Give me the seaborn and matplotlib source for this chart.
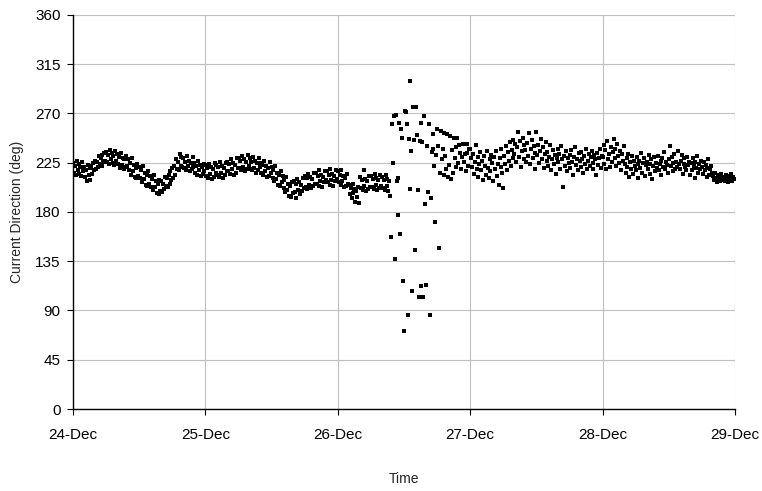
import pandas as pd
import numpy as np
import matplotlib
matplotlib.use("Agg")
import matplotlib.pyplot as plt
import matplotlib.dates as mdates
import seaborn as sns

# === Current direction readings, 10-minute samples, one list per day ===
dir_24dec = [
    225, 216, 222, 214, 227, 218, 224, 215, 221, 213, 226, 217,
    221, 212, 218, 208, 223, 214, 220, 209, 222, 215, 225, 218,
    227, 219, 226, 221, 231, 224, 229, 222, 232, 226, 234, 227,
    235, 226, 232, 224, 237, 228, 234, 225, 231, 223, 236, 227,
    233, 224, 230, 220, 234, 223, 229, 219, 228, 221, 231, 222,
    228, 218, 225, 214, 229, 217, 223, 212, 220, 211, 224, 213,
    221, 211, 218, 207, 222, 210, 216, 205, 214, 204, 217, 206,
    213, 203, 210, 200, 214, 203, 208, 197, 206, 196, 209, 199,
    208, 198, 206, 201, 212, 204, 211, 203, 214, 206, 217, 209,
    220, 211, 222, 214, 228, 219, 226, 218, 233, 222, 230, 221,
    229, 220, 226, 218, 231, 222, 227, 217, 225, 219, 230, 221,
    225, 216, 222, 214, 227, 218, 223, 213, 221, 215, 224, 217,
]
dir_25dec = [
    223, 213, 220, 211, 224, 215, 221, 210, 219, 212, 225, 216,
    223, 214, 221, 212, 226, 216, 222, 211, 220, 214, 225, 217,
    226, 217, 224, 215, 228, 219, 225, 214, 223, 216, 229, 220,
    229, 220, 227, 218, 231, 221, 228, 217, 226, 219, 232, 222,
    229, 219, 226, 218, 230, 220, 227, 216, 225, 218, 229, 221,
    225, 216, 223, 214, 227, 217, 222, 212, 220, 213, 226, 216,
    221, 211, 218, 208, 222, 210, 216, 205, 214, 204, 217, 207,
    213, 202, 209, 198, 212, 200, 206, 195, 204, 194, 207, 197,
    208, 198, 206, 193, 210, 200, 207, 196, 205, 199, 211, 202,
    213, 203, 211, 201, 215, 205, 212, 202, 210, 204, 216, 206,
    216, 206, 213, 204, 218, 208, 214, 203, 212, 207, 217, 209,
    217, 207, 214, 205, 219, 209, 215, 204, 213, 208, 218, 210,
]
dir_26dec = [
    217, 207, 214, 205, 218, 208, 213, 203, 211, 204, 215, 206,
    205, 196, 202, 193, 206, 197, 201, 189, 199, 194, 203, 188,
    212, 202, 209, 200, 218, 204, 210, 199, 208, 201, 213, 203,
    213, 203, 210, 201, 215, 205, 211, 200, 209, 202, 214, 204,
    212, 202, 209, 200, 214, 204, 210, 199, 208, 195, 157, 260,
    225, 268, 137, 269, 208, 211, 177, 261, 160, 256, 248, 117,
    71, 272, 271, 260, 86, 247, 201, 300, 236, 108, 276, 246,
    145, 276, 250, 200, 102, 245, 261, 112, 244, 102, 268, 187,
    113, 240, 198, 260, 86, 193, 235, 238, 251, 222, 171, 232,
    256, 240, 147, 216, 254, 228, 238, 252, 214, 231, 219, 251,
    212, 223, 249, 210, 237, 216, 248, 229, 221, 239, 248, 225,
    241, 234, 219, 230, 242, 226, 233, 217, 242, 234, 222, 238,
]
dir_27dec = [
    238, 229, 221, 233, 215, 226, 241, 219, 230, 212, 224, 235,
    218, 227, 209, 231, 222, 214, 236, 220, 211, 228, 217, 232,
    225, 208, 230, 219, 236, 213, 224, 205, 229, 221, 238, 216,
    202, 231, 224, 240, 218, 235, 227, 244, 222, 237, 229, 246,
    233, 242, 226, 239, 253, 230, 245, 221, 236, 248, 228, 241,
    237, 226, 243, 231, 252, 224, 238, 246, 229, 240, 219, 234,
    253, 232, 241, 225, 236, 247, 228, 239, 220, 233, 244, 227,
    235, 222, 230, 241, 218, 228, 237, 224, 232, 215, 229, 238,
    226, 233, 219, 240, 228, 203, 231, 222, 236, 217, 229, 225,
    232, 220, 237, 226, 214, 230, 239, 223, 228, 218, 234, 227,
    221, 235, 228, 216, 231, 224, 238, 219, 227, 233, 222, 230,
    236, 225, 219, 232, 228, 214, 234, 223, 229, 238, 220, 231,
]
dir_28dec = [
    230, 241, 224, 237, 219, 245, 228, 233, 221, 239, 226, 235,
    247, 229, 238, 222, 242, 231, 225, 236, 218, 233, 227, 240,
    224, 216, 229, 221, 233, 212, 226, 219, 231, 215, 227, 222,
    218, 230, 224, 211, 227, 220, 234, 216, 225, 229, 213, 223,
    226, 219, 232, 215, 224, 228, 210, 222, 230, 217, 225, 220,
    231, 218, 224, 227, 214, 229, 221, 235, 219, 226, 223, 216,
    228, 240, 222, 230, 217, 225, 233, 219, 226, 221, 236, 224,
    219, 227, 232, 215, 224, 229, 221, 218, 230, 223, 226, 214,
    225, 218, 229, 222, 211, 226, 220, 231, 216, 224, 219, 227,
    221, 215, 226, 218, 223, 212, 220, 228, 214, 219, 222, 216,
    213, 209, 216, 211, 207, 214, 210, 212, 208, 215, 211, 209,
    212, 208, 214, 210, 207, 213, 209, 211, 215, 208, 212, 210,
]

y_ticks = [0, 45, 90, 135, 180, 225, 270, 315, 360]
start_day = "2004-12-24"
end_day = "2004-12-29"

direction = dir_24dec + dir_25dec + dir_26dec + dir_27dec + dir_28dec
times = pd.date_range(start_day, periods=len(direction), freq="10min")
df = pd.DataFrame({"time": times, "direction": direction})

# === Plot ===
sns.set_style("white")
plt.rcParams["font.family"] = ["Liberation Sans", "DejaVu Sans"]

fig = plt.figure(figsize=(7.62, 4.91), dpi=100)
ax = fig.add_axes([0.0958, 0.167, 0.8688, 0.8025])

sns.scatterplot(data=df, x="time", y="direction", marker="s", s=10,
                color="black", linewidth=0, ax=ax, zorder=3)

ax.set_xlim(pd.Timestamp(start_day), pd.Timestamp(end_day))
ax.set_ylim(0, 360)
ax.set_yticks(y_ticks)
ax.xaxis.set_major_locator(mdates.DayLocator())
ax.xaxis.set_major_formatter(mdates.DateFormatter("%d-%b"))

ax.grid(True, color="#c0c0c0", linewidth=0.8)
ax.set_axisbelow(True)
for side in ["top", "right"]:
    ax.spines[side].set_visible(False)
for side in ["left", "bottom"]:
    ax.spines[side].set_color("black")
    ax.spines[side].set_linewidth(1.0)

ax.tick_params(axis="both", direction="out", length=4, width=0.8,
               color="black", labelsize=11, labelcolor="black")
ax.tick_params(axis="x", pad=9.5)
ax.tick_params(axis="y", pad=5)
ax.tick_params(left=True, bottom=True)

ax.set_xlabel("Time", fontsize=10, labelpad=22)
ax.set_ylabel("Current Direction (deg)", fontsize=10, labelpad=8)

fig.savefig("out.png", dpi=100)
plt.close(fig)
